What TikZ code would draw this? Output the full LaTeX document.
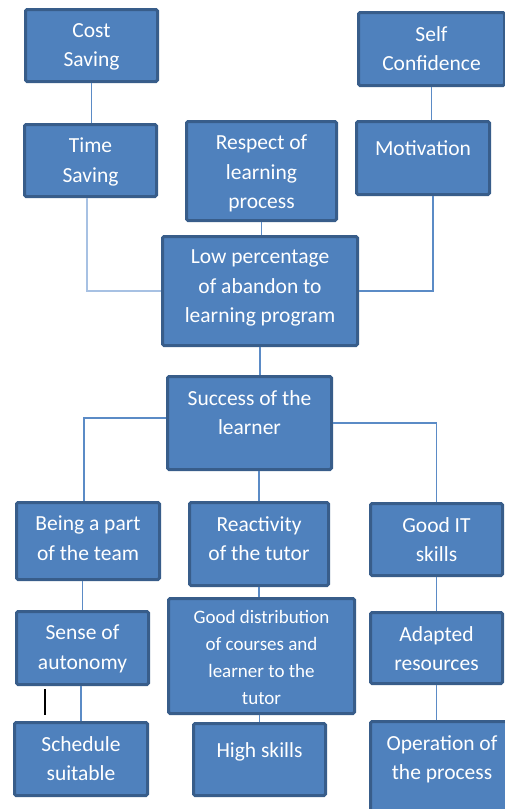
\documentclass[tikz,border=0pt]{standalone}
\usepackage{fontspec}
\setmainfont{Carlito}
\definecolor{boxfill}{HTML}{4F81BD}
\definecolor{boxedge}{HTML}{385D8A}
\definecolor{linkblue}{HTML}{5B8BC6}
\definecolor{linkpale}{HTML}{A7C1E3}

\begin{document}
\begin{tikzpicture}[
  x=1pt,y=-1pt,
  box/.style={draw=boxedge,line width=3pt,fill=boxfill,rounded corners=1.5pt,inner sep=0pt},
  txt/.style={anchor=north,yshift=-15pt,align=center,text=white,inner sep=0pt,
    font=\fontsize{21.5}{29.5}\selectfont,execute at begin node=\strut},
  link/.style={draw=linkblue,line width=1.5pt}
]
\useasboundingbox (0,0) rectangle (505,809);
\clip (0,0) rectangle (505,809);
% top rows
\node[box,minimum width=132pt,minimum height=72pt,label={[txt]north:Cost\\Saving}] (cost) at (91.5,45.5) {};
\node[box,minimum width=132pt,minimum height=72pt,label={[txt]north:Time\\Saving}] (time) at (90.5,160.5) {};
\node[box,minimum width=150pt,minimum height=99pt,label={[txt]north:Respect of\\learning\\process}] (respect) at (261.5,171) {};
\node[box,minimum width=146pt,minimum height=73pt,label={[txt]north:Self\\Confidence}] (self) at (431.5,49) {};
\node[box,minimum width=133pt,minimum height=73pt,label={[txt]north:Motivation}] (motiv) at (423,158) {};
\node[box,minimum width=195pt,minimum height=109pt,label={[txt]north:Low percentage\\of abandon to\\learning program}] (low) at (260,291) {};
\node[box,minimum width=164pt,minimum height=93pt,label={[txt]north:Success of the\\learner}] (success) at (249.5,423) {};
% lower branches
\node[box,minimum width=143pt,minimum height=77pt,label={[txt]north:Being a part\\of the team}] (being) at (88,541) {};
\node[box,minimum width=132pt,minimum height=73pt,label={[txt]north:Sense of\\autonomy}] (sense) at (82.5,648) {};
\node[box,minimum width=133pt,minimum height=73pt,label={[txt]north:Schedule\\suitable}] (sched) at (81,759) {};
\node[box,minimum width=139pt,minimum height=83pt,label={[txt]north:Reactivity\\of the tutor}] (react) at (259,544) {};
\node[box,minimum width=186pt,minimum height=115pt,label={[txt,yshift=2pt,font=\fontsize{19}{27}\selectfont]north:Good distribution\\of courses and\\learner to the\\tutor}] (dist) at (261.5,656) {};
\node[box,minimum width=132pt,minimum height=72pt,label={[txt]north:High skills}] (high) at (259.5,759.5) {};
\node[box,minimum width=132pt,minimum height=72pt,label={[txt]north:Good IT\\skills}] (goodit) at (436.5,539.5) {};
\node[box,minimum width=132pt,minimum height=71pt,label={[txt]north:Adapted\\resources}] (adapt) at (436.5,648) {};
\node[box,minimum width=143pt,minimum height=102pt,label={[txt]north:Operation of\\the process}] (oper) at (442,772.5) {};
% connectors
\draw[link] (cost.south) -- (cost.south |- time.north);
\draw[draw=linkpale,line width=2pt] ([xshift=-4pt]time.south) |- (low.west);
\draw[link] (respect.south) -- (respect.south |- low.north);
\draw[link] (self.south) -- (self.south |- motiv.north);
\draw[link] ([xshift=10pt]motiv.south) |- (low.east);
\draw[link] (low.south) -- (low.south |- success.north);
\draw[link] ([yshift=5pt]success.west) -| ([xshift=-4pt]being.north);
\draw[link] (react.north |- success.south) -- (react.north);
\draw[link] (success.east) -| (goodit.north);
\draw[link] (sense.north |- being.south) -- (sense.north);
\draw[link] (sched.north |- sense.south) -- (sched.north);
\draw[link] (react.south) -- (react.south |- dist.north);
\draw[link] (high.north |- dist.south) -- (high.north);
\draw[link] (goodit) -- (adapt);
\draw[link] (adapt.south) -- (adapt.south |- oper.north);
\coordinate (mark) at (45,689);
\draw[line width=1.5pt] (mark) -- ++(0,26);
\end{tikzpicture}
\end{document}
